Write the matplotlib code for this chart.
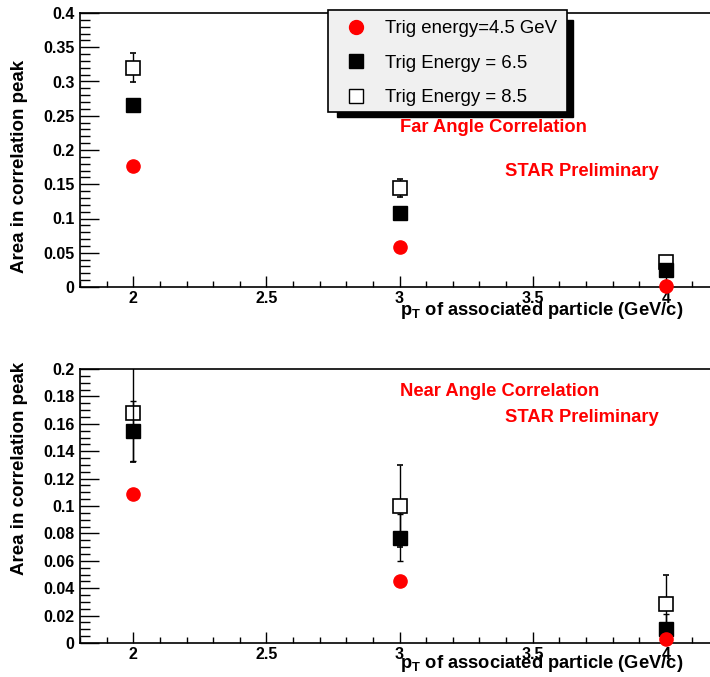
import numpy as np
import matplotlib
matplotlib.use("Agg")
import matplotlib.pyplot as plt
from matplotlib.patches import Rectangle
from matplotlib.lines import Line2D
from matplotlib.ticker import MultipleLocator, FormatStrFormatter

plt.rcParams["font.family"] = ["Liberation Sans", "DejaVu Sans"]
plt.rcParams["mathtext.fontset"] = "custom"
plt.rcParams["mathtext.bf"] = "Liberation Sans:bold"
plt.rcParams["mathtext.rm"] = "Liberation Sans:bold"

pt_assoc = [2, 3, 4]
labels = ["Trig energy=4.5 GeV", "Trig Energy = 6.5", "Trig Energy = 8.5"]

# far angle (top panel)
far_45 = [0.176, 0.059, 0.001]
far_65 = [0.266, 0.108, 0.025]
far_85 = [0.320, 0.145, 0.037]
far_85_err = [0.021, 0.013, 0.003]

# near angle (bottom panel)
near_45 = [0.109, 0.0455, 0.003]
near_65 = [0.155, 0.077, 0.0105]
near_65_err = [0.022, 0.017, 0.011]
near_85 = [0.168, 0.100, 0.0285]
near_85_err = [0.036, 0.030, 0.021]

W, H = 710, 677
fig = plt.figure(figsize=(W / 100, H / 100), dpi=100)

def px_axes(left, top, right, bottom):
    return fig.add_axes([left / W, 1 - bottom / H, (right - left) / W, (bottom - top) / H])

ax_top = px_axes(80, 13, 719, 287)
ax_bot = px_axes(80, 369, 719, 643)

def style_axis(ax, ymax, ymajor, yminor):
    ax.set_xlim(1.8, 4.2)
    ax.set_ylim(0, ymax)
    ax.xaxis.set_major_locator(MultipleLocator(0.5))
    ax.xaxis.set_minor_locator(MultipleLocator(0.1))
    ax.yaxis.set_major_locator(MultipleLocator(ymajor))
    ax.yaxis.set_minor_locator(MultipleLocator(yminor))
    ax.xaxis.set_major_formatter(FormatStrFormatter("%g"))
    ax.yaxis.set_major_formatter(FormatStrFormatter("%g"))
    ax.tick_params(axis="y", which="major", direction="in", length=14, width=1, labelsize=11.5, pad=4)
    ax.tick_params(axis="y", which="minor", direction="in", length=7, width=1)
    ax.tick_params(axis="x", which="major", direction="in", length=8, width=1, labelsize=11.5, pad=3)
    ax.tick_params(axis="x", which="minor", direction="in", length=4, width=1)
    for lab in ax.get_xticklabels() + ax.get_yticklabels():
        lab.set_fontweight("bold")
    for s in ax.spines.values():
        s.set_linewidth(1.2)

def draw_points(ax, y45, y65, y85, e65, e85):
    ax.errorbar(pt_assoc, y85, yerr=e85, fmt="s", ms=9.5, mfc="white", mec="black", mew=1.2,
                ecolor="black", elinewidth=1, capsize=2.5, zorder=3)
    ax.errorbar(pt_assoc, y65, yerr=e65, fmt="s", ms=9.5, mfc="black", mec="black",
                ecolor="black", elinewidth=1, capsize=2.5, zorder=4)
    ax.plot(pt_assoc, y45, "o", ms=9.5, color="red", mec="red", zorder=5, clip_on=False)

draw_points(ax_top, far_45, far_65, far_85, None, far_85_err)
style_axis(ax_top, 0.4, 0.05, 0.01)
draw_points(ax_bot, near_45, near_65, near_85, near_65_err, near_85_err)
style_axis(ax_bot, 0.2, 0.02, 0.005)

# legend box with ROOT-style shadow
fig.patches.append(Rectangle((337 / W, 1 - 117 / H), (573 - 337) / W, (117 - 20) / H,
                             transform=fig.transFigure, facecolor="black", edgecolor="black", zorder=5))
fig.patches.append(Rectangle((328 / W, 1 - 112 / H), (567 - 328) / W, (112 - 10) / H,
                             transform=fig.transFigure, facecolor="#f0f0f0", edgecolor="black",
                             linewidth=1.2, zorder=6))
handles = [
    Line2D([], [], ls="none", marker="o", ms=10, color="red", mec="red"),
    Line2D([], [], ls="none", marker="s", ms=10, mfc="black", mec="black"),
    Line2D([], [], ls="none", marker="s", ms=10, mfc="white", mec="black", mew=1.0),
]
leg = fig.legend(handles, labels,
                 loc="upper left", bbox_to_anchor=(347 / W, 1 - 20 / H), frameon=False,
                 fontsize=13.4, handlelength=1.0, handletextpad=1.05, labelspacing=0.95,
                 borderpad=0, borderaxespad=0, numpoints=1)
leg.set_zorder(7)

red_kw = dict(color="red", fontweight="bold", fontsize=13.2, va="center", ha="left")
fig.text(400 / W, 1 - 128 / H, "Far Angle Correlation", **red_kw)
fig.text(505 / W, 1 - 171 / H, "STAR Preliminary", **red_kw)
fig.text(400 / W, 1 - 391 / H, "Near Angle Correlation", **red_kw)
fig.text(505 / W, 1 - 418 / H, "STAR Preliminary", **red_kw)

xlab = r"$\mathbf{p_T}$ of associated particle (GeV/c)"
fig.text(683 / W, 1 - 311 / H, xlab, fontweight="bold", fontsize=13.2, ha="right", va="center")
fig.text(683 / W, 1 - 664 / H, xlab, fontweight="bold", fontsize=13.2, ha="right", va="center")

ylab = "Area in correlation peak"
fig.text(20 / W, 1 - 166 / H, ylab, fontweight="bold", fontsize=13.5, rotation=90, ha="center", va="center")
fig.text(20 / W, 1 - 468 / H, ylab, fontweight="bold", fontsize=13.5, rotation=90, ha="center", va="center")

fig.savefig("out.png", dpi=100)
